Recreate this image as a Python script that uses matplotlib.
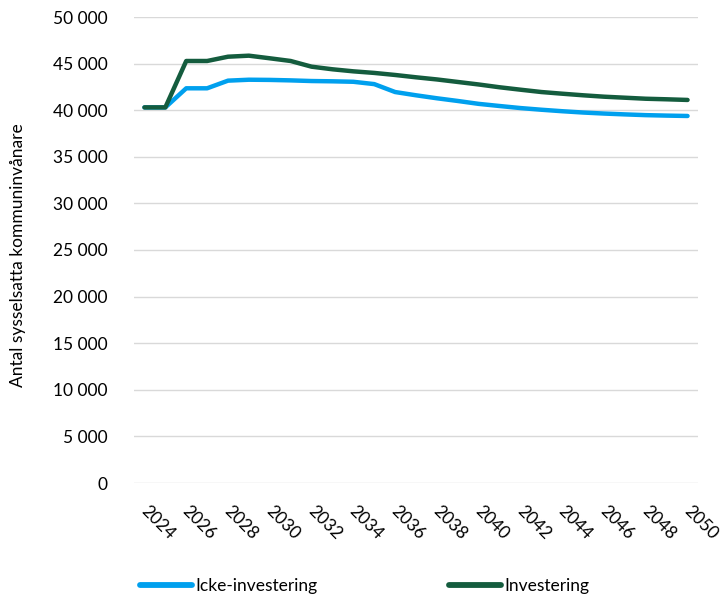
import numpy as np
import matplotlib.pyplot as plt
from matplotlib.ticker import FuncFormatter
import matplotlib.transforms as mtransforms

plt.rcParams['font.family'] = ['Lato', 'DejaVu Sans']

years = list(range(2024, 2051))
icke = [40300, 40300, 42350, 42350, 43170, 43270, 43250, 43200, 43130, 43100,
        43050, 42800, 41950, 41600, 41280, 40990, 40680, 40450, 40230, 40050,
        39890, 39750, 39640, 39550, 39470, 39420, 39380]
invest = [40300, 40300, 45280, 45280, 45740, 45850, 45570, 45280, 44670, 44390,
          44170, 44000, 43780, 43530, 43300, 43030, 42760, 42460, 42200, 41950,
          41770, 41600, 41450, 41340, 41230, 41170, 41100]

BLUE = "#00A0EE"
GREEN = "#145C3E"

fig = plt.figure(figsize=(7.21, 5.98), dpi=100)
ax = fig.add_axes([134/721, 1-483/598, 564/721, 466/598])

x = np.arange(len(years))
ax.plot(x, icke, color=BLUE, lw=3.2, solid_capstyle='round', solid_joinstyle='round',
        label="Icke-investering")
ax.plot(x, invest, color=GREEN, lw=3.2, solid_capstyle='round', solid_joinstyle='round',
        label="Investering")

ax.set_xlim(-0.5, len(years) - 0.5)
ax.set_ylim(0, 50000)
ax.set_yticks(np.arange(0, 50001, 5000))
ax.yaxis.set_major_formatter(FuncFormatter(lambda v, p: f"{int(v):,}".replace(",", " ")))
ax.grid(axis='y', color='#D9D9D9', lw=1)
ax.set_axisbelow(True)
for s in ax.spines.values():
    s.set_visible(False)
ax.tick_params(length=0, labelsize=12.5, colors='black')
ax.tick_params(axis='y', pad=19)

# rotated year labels, every second year
ax.set_xticks(x[::2])
ax.set_xticklabels([str(y) for y in years[::2]], rotation=-45, ha='center', va='top')
ax.tick_params(axis='x', pad=14)
offset = mtransforms.ScaledTranslation(13/100, 0, fig.dpi_scale_trans)
for lab in ax.get_xticklabels():
    lab.set_transform(lab.get_transform() + offset)

fig.text(18/721, 1-255/598, "Antal sysselsatta kommuninvånare", rotation=90,
         ha='center', va='center', fontsize=12.5)

leg = fig.legend(loc='center left', bbox_to_anchor=(140/721, 1-586/598), ncol=2,
                 frameon=False, fontsize=12.5, handlelength=3.0, handletextpad=0.17,
                 columnspacing=7.6, borderpad=0, borderaxespad=0)
for h in leg.get_lines():
    h.set_linewidth(4.2)
    h.set_solid_capstyle('round')

fig.savefig("out.png", dpi=100)
